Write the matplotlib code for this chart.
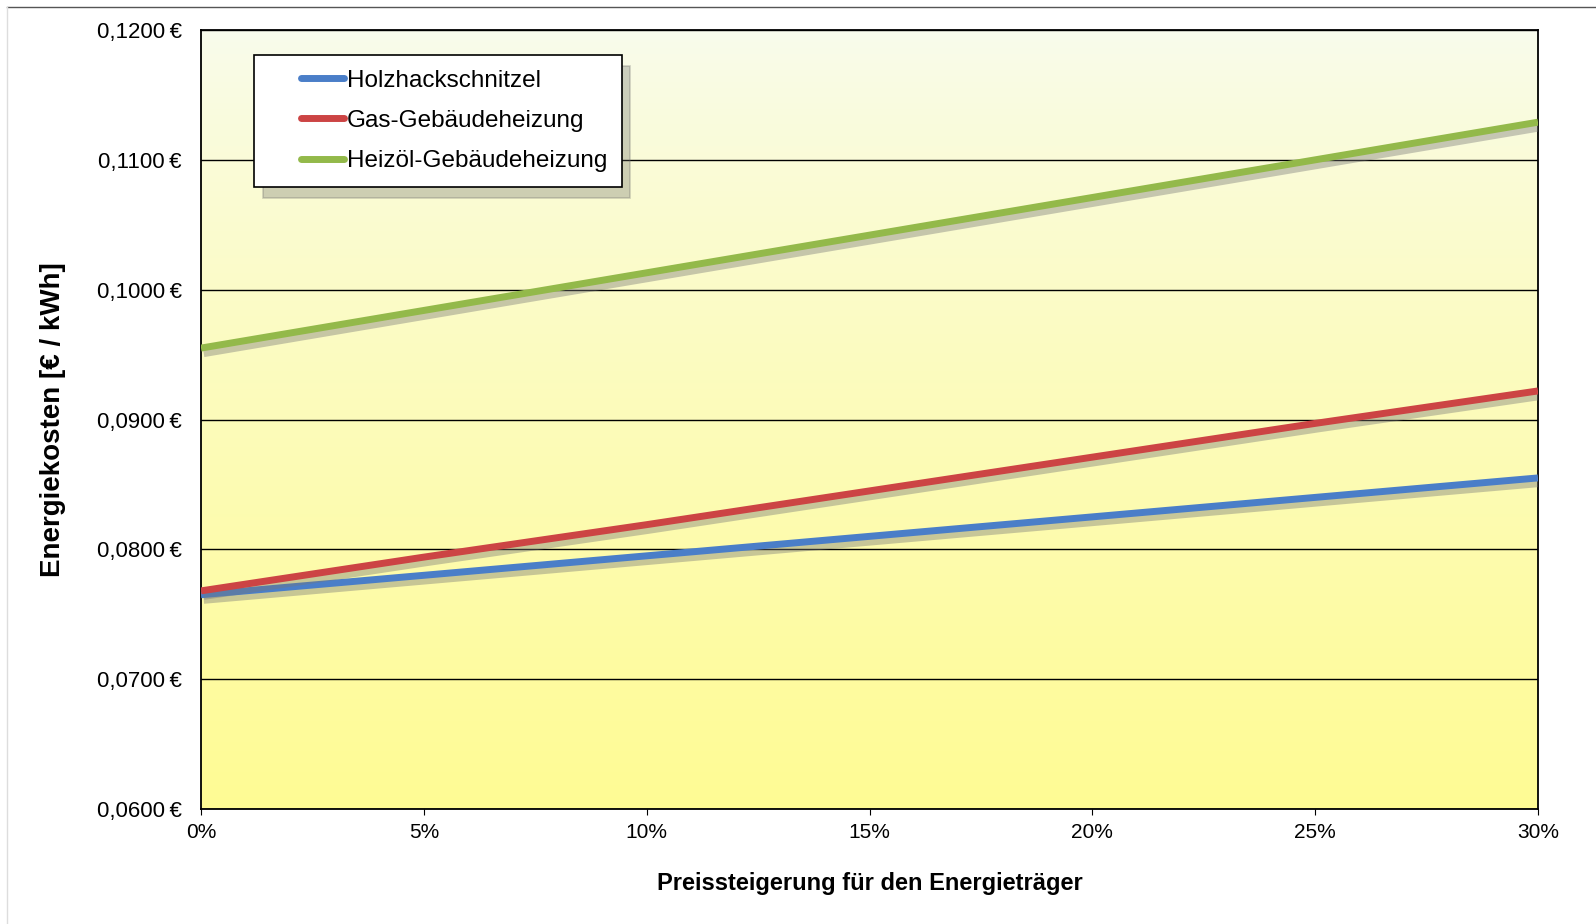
import matplotlib.pyplot as plt
import matplotlib.patheffects as pe
from matplotlib.lines import Line2D
from matplotlib.legend_handler import HandlerBase
import numpy as np

plt.rcParams['font.family'] = ['Liberation Sans', 'DejaVu Sans']

# Preissteigerung (in %) und Energiekosten in EUR/kWh
steigerung = [0, 5, 10, 15, 20, 25, 30]
holz = [0.0765, 0.0780, 0.0795, 0.0810, 0.0825, 0.0840, 0.0855]
gas = [0.0768, 0.0794, 0.0819, 0.0845, 0.0871, 0.0897, 0.0922]
heizoel = [0.0955, 0.0984, 0.1013, 0.1042, 0.1071, 0.1100, 0.1129]

names = ['Holzhackschnitzel', 'Gas-Gebäudeheizung', 'Heizöl-Gebäudeheizung']
colors = ['#4a7ec8', '#cc4444', '#93b94a']


class ShortLine(HandlerBase):
    # legend line only on the right part of the handle box (extra left padding)
    def create_artists(self, legend, orig, xdescent, ydescent, width, height, fontsize, trans):
        y = (height - ydescent) / 2
        line = Line2D([width * 0.42 - xdescent, width - xdescent], [y, y],
                      color=orig.get_color(), lw=orig.get_linewidth(),
                      solid_capstyle='round')
        line.set_transform(trans)
        return [line]


fig = plt.figure(figsize=(15.96, 9.24), dpi=100)
ax = fig.add_axes([201 / 1596, 1 - 809 / 924, (1538 - 201) / 1596, (809 - 30) / 924])

# yellow gradient background (pale at top, yellow at bottom)
grad = np.linspace(0, 1, 256).reshape(-1, 1)
top = np.array([0.975, 0.985, 0.93])
bot = np.array([1.0, 0.985, 0.58])
img = top + (bot - top) * grad[:, :, None] ** 0.8
ax.imshow(img, extent=[0, 1, 0, 1], transform=ax.transAxes, aspect='auto', zorder=0)

shadow = [pe.SimpleLineShadow(offset=(2, -4), shadow_color='#777777', alpha=0.4),
          pe.Normal()]
for vals, c in zip([holz, gas, heizoel], colors):
    ax.plot(steigerung, vals, color=c, lw=5, solid_capstyle='butt',
            path_effects=shadow, zorder=3)

ax.set_xlim(0, 30)
ax.set_ylim(0.06, 0.12)
ax.set_xticks(steigerung)
ax.set_xticklabels([f'{s}%' for s in steigerung])
yt = np.arange(0.06, 0.1201, 0.01)
ax.set_yticks(yt)
ax.set_yticklabels([f'{v:.4f}\u2009€'.replace('.', ',') for v in yt])
ax.tick_params(axis='x', length=4, labelsize=15, pad=6)
ax.tick_params(axis='y', length=0, labelsize=16, pad=14)
ax.grid(axis='y', color='black', lw=1)
ax.set_axisbelow(False)
for s in ax.spines.values():
    s.set_linewidth(1.3)

ax.set_xlabel('Preissteigerung für den Energieträger', fontsize=17,
              fontweight='bold', labelpad=22)
ax.set_ylabel('Energiekosten [€ / kWh]', fontsize=20, fontweight='bold', labelpad=22)

handles = [Line2D([0], [0], color=c, lw=5) for c in colors]
leg = ax.legend(handles, names, loc='upper left', bbox_to_anchor=(0.04, 0.968),
                fontsize=17.5, frameon=True, fancybox=False,
                shadow={'color': '#666666', 'alpha': 0.3, 'ox': 6, 'oy': -8},
                edgecolor='black', framealpha=1, handlelength=3.1, handletextpad=0.1,
                borderpad=0.6, labelspacing=0.75, borderaxespad=0,
                handler_map={Line2D: ShortLine()})
leg.get_frame().set_linewidth(1.2)

# outer frame lines
fig.add_artist(Line2D([7 / 1596, 1], [1 - 7 / 924, 1 - 7 / 924], color='#555555', lw=1))
fig.add_artist(Line2D([7 / 1596, 7 / 1596], [0, 1 - 7 / 924], color='#dddddd', lw=1))

fig.savefig('out.png', dpi=100)
